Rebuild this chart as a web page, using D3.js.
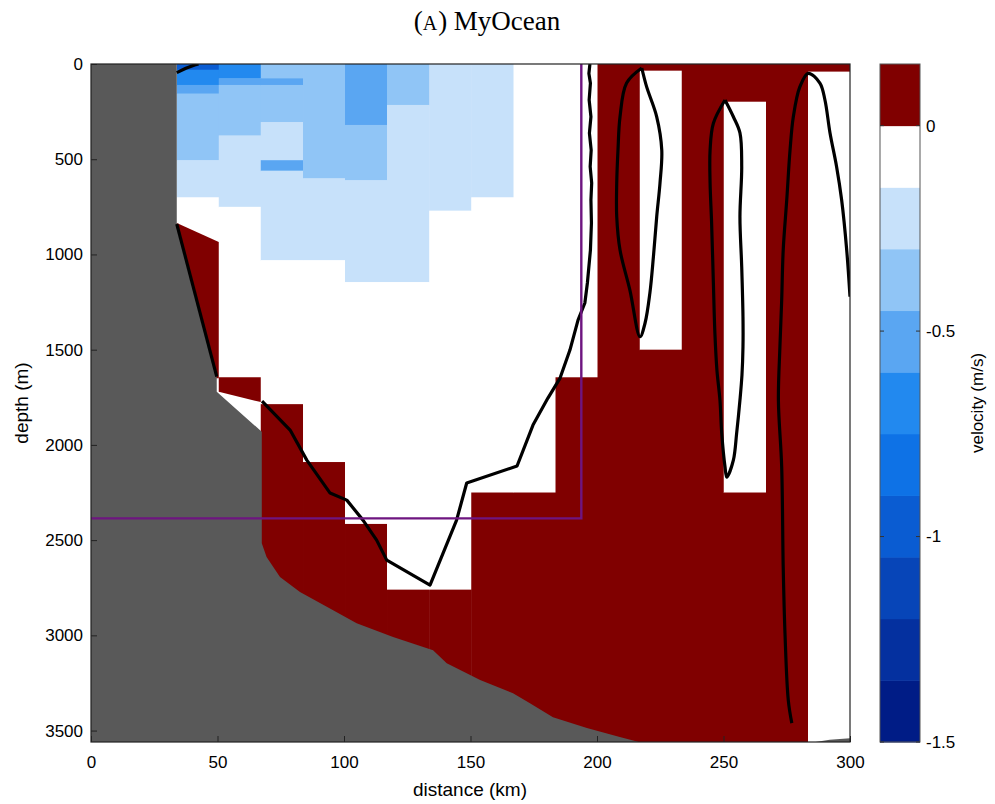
<!DOCTYPE html>
<html><head><meta charset="utf-8">
<script src="https://cdn.jsdelivr.net/npm/d3@7"></script>
<style>body{margin:0;background:#fff}svg{display:block}</style>
</head><body>
<svg id="chart" width="995" height="804"></svg>
<script>
// ---------------- DATA ----------------
const xTicks = [0, 50, 100, 150, 200, 250, 300];
const yTicks = [0, 500, 1000, 1500, 2000, 2500, 3000, 3500];
const cbTicks = [0, -0.5, -1, -1.5];
const cbThresholds = [-1.35, -1.2, -1.05, -0.9, -0.75, -0.6, -0.45, -0.3, -0.15, 0];
const cbColors = ['#001c86','#04309f','#0745b8','#0a5cd2','#0e72e6','#2289ef','#5aa6f2','#90c5f6','#c7e1fa','#ffffff','#800000'];

// grid column edges (km)
const colEdges = [33.9, 50.5, 67.1, 83.8, 100.4, 117.0, 133.7, 150.3, 167.0, 183.6, 200.2, 216.9, 233.5, 250.1, 266.8, 283.4, 300.0];
// velocity (m/s) per column as runs [top depth m, bottom depth m, value]
const velocityRuns = [
  [[0,30,-1.0],[30,110,-0.7],[110,155,-0.5],[155,505,-0.4],[505,700,-0.2],[700,835,-0.05]],
  [[0,75,-0.65],[75,110,-0.5],[110,375,-0.4],[375,750,-0.2],[750,1645,-0.05]],
  [[0,75,-0.35],[75,110,-0.5],[110,305,-0.35],[305,505,-0.2],[505,560,-0.5],[560,1030,-0.2],[1030,1786,-0.05],[1786,3600,0.1]],
  [[0,600,-0.35],[600,1030,-0.2],[1030,2090,-0.05],[2090,3600,0.1]],
  [[0,320,-0.55],[320,610,-0.4],[610,1145,-0.2],[1145,2415,-0.05],[2415,3600,0.1]],
  [[0,215,-0.4],[215,1145,-0.2],[1145,2760,-0.05],[2760,3600,0.1]],
  [[0,770,-0.2],[770,2760,-0.05],[2760,3600,0.1]],
  [[0,700,-0.2],[700,2250,-0.05],[2250,3600,0.1]],
  [[0,2250,-0.05],[2250,3600,0.1]],
  [[0,1645,-0.05],[1645,3600,0.1]],
  [[0,3600,0.1]],
  [[0,35,0.1],[35,1500,-0.05],[1500,3600,0.1]],
  [[0,3600,0.1]],
  [[0,198,0.1],[198,2250,-0.05],[2250,3600,0.1]],
  [[0,3600,0.1]],
  [[0,40,0.1],[40,3600,-0.05]]
];
// bottom cells with sloping edges: [x0, x1, topL, topR, botL, botR, value]
const partialCells = [
  [33.9, 50.5, 835, 935, 1650, 1650, 0.1],
  [50.5, 67.1, 1645, 1645, 1721, 1775, 0.1]
];
// bathymetry
const bathyKm    = [0, 33.9, 33.9, 49.7, 49.7, 67.5, 67.5, 69.4, 74.7, 82.6, 95.7, 105, 119.4, 135.2, 140.6, 153.8, 166.8, 173.5, 182.6, 196, 209, 218, 284, 292, 300];
const bathyDepth = [0, 0, 835, 1642, 1721, 1931, 2516, 2588, 2693, 2773, 2868, 2936, 3009, 3078, 3146, 3235, 3304, 3356, 3430, 3487, 3534, 3565, 3565, 3548, 3540];
// zero-velocity contours [km, m]
const contourA1 = [[33.9,840],[49.7,1642]];
const contourA2 = [[67.6,1770],[78.7,1922],[85.3,2080],[94.5,2253],[101.1,2290],[107.5,2395],[112.9,2500],[116.9,2605],[134,2736],[144.5,2395],[148.5,2200],[168.4,2111],[174.7,1896],[180.6,1754],[185.4,1649],[189.3,1502],[192.5,1345],[195.2,1255],[196.2,1150],[197.4,977],[197.8,835],[197.6,714],[197.9,625],[197.3,539],[197.7,452],[197.0,363],[197.6,277],[196.9,189],[197.4,101],[196.8,50],[197.2,0]];
const contourB = [[217.7,21],[219.6,119],[223.6,277],[225.6,452],[224.9,625],[223.6,802],[222.3,1012],[220.9,1203],[219,1360],[217,1432],[213,1187],[209.1,977],[207.8,802],[207.8,625],[208.3,450],[209.1,277],[211.7,100],[217.7,21]];
const contourC = [[250.6,189],[253.9,277],[256.5,362],[257.2,539],[256.5,802],[257.2,1065],[257.7,1327],[257.7,1485],[257.3,1633],[256.5,1765],[255.2,1938],[253.9,2080],[251.3,2169],[250.6,2115],[249.3,1938],[248.6,1765],[247.4,1607],[246.6,1413],[246,1150],[245.3,835],[244.7,625],[244.7,452],[246,311],[250.6,189]];
const contourD = [[277,3461],[275.6,3340],[274.3,2988],[273.6,2640],[273,2115],[271.7,1765],[272.3,1485],[273,1240],[273.6,977],[275,714],[276.3,452],[277.6,277],[280.2,119],[283.5,49],[288.1,100],[290.1,189],[292.1,362],[294.7,539],[296.7,714],[298.7,977],[300,1222]];
const contourE = [[33.9,45],[37.5,22],[41,5],[42.5,0]];
// analysis box (km, m)
const boxKm = 193.8, boxDepth = 2386;

// ---------------- DRAW ----------------
const P = {l:91, r:850, t:64, b:742};
const x = d3.scaleLinear().domain([0,300]).range([P.l,P.r]);
const y = d3.scaleLinear().domain([0,3560]).range([P.t,P.b]);
const color = d3.scaleThreshold().domain(cbThresholds).range(cbColors);
const svg = d3.select('#chart');
const font = "'Liberation Sans', Arial, Helvetica, sans-serif";

svg.append('defs').append('clipPath').attr('id','clip')
  .append('rect').attr('x',P.l).attr('y',P.t).attr('width',P.r-P.l).attr('height',P.b-P.t);
const g = svg.append('g').attr('clip-path','url(#clip)');
g.append('rect').attr('x',P.l).attr('y',P.t).attr('width',P.r-P.l).attr('height',P.b-P.t).attr('fill','#fff');

// cells
const cells = [];
velocityRuns.forEach((runs,i)=>runs.forEach(r=>cells.push({x0:colEdges[i],x1:colEdges[i+1],d0:r[0],d1:r[1],v:r[2]})));
g.selectAll('rect.cell').data(cells).join('rect').attr('class','cell')
  .attr('x',d=>x(d.x0)).attr('width',d=>x(d.x1)-x(d.x0)+0.5)
  .attr('y',d=>y(d.d0)).attr('height',d=>y(d.d1)-y(d.d0)+0.5)
  .attr('fill',d=>color(d.v));
g.selectAll('path.pcell').data(partialCells).join('path').attr('class','pcell')
  .attr('d',d=>`M${x(d[0])},${y(d[2])}L${x(d[1])},${y(d[3])}L${x(d[1])},${y(d[5])}L${x(d[0])},${y(d[4])}Z`)
  .attr('fill',d=>color(d[6]));

// bathymetry
const bathy = bathyKm.map((k,i)=>[k,bathyDepth[i]]);
const bathyPoly = [...bathy,[300,3700],[0,3700]];
g.append('path').attr('d',d3.line().x(d=>x(d[0])).y(d=>y(d[1]))(bathyPoly)+'Z').attr('fill','#595959');

// contours
const ln = d3.line().x(d=>x(d[0])).y(d=>y(d[1]));
const lnS = d3.line().x(d=>x(d[0])).y(d=>y(d[1])).curve(d3.curveCatmullRom.alpha(0.5));
[contourA1,contourA2,contourE].forEach(c=>g.append('path').attr('d',ln(c)).attr('fill','none').attr('stroke','#000').attr('stroke-width',3.2).attr('stroke-linejoin','round'));
[contourB,contourC,contourD].forEach(c=>g.append('path').attr('d',lnS(c)).attr('fill','none').attr('stroke','#000').attr('stroke-width',3.2).attr('stroke-linejoin','round'));

// analysis box
g.append('path').attr('d',`M${x(0)},${y(boxDepth)}L${x(boxKm)},${y(boxDepth)}L${x(boxKm)},${y(0)}`)
  .attr('fill','none').attr('stroke','#6e1580').attr('stroke-width',2.4);

// axes
const ax = svg.append('g').attr('transform',`translate(0,${P.b})`)
  .call(d3.axisBottom(x).tickValues(xTicks).tickFormat(d3.format('d')).tickSizeInner(-6).tickSizeOuter(0).tickPadding(14));
const ay = svg.append('g').attr('transform',`translate(${P.l},0)`)
  .call(d3.axisLeft(y).tickValues(yTicks).tickFormat(d3.format('d')).tickSizeInner(-6).tickSizeOuter(0).tickPadding(8));
[ax,ay].forEach(a=>{a.selectAll('text').attr('font-family',font).attr('font-size',17).attr('fill','#000');
  a.selectAll('line').attr('stroke','#222'); a.select('.domain').remove();});
svg.append('rect').attr('x',P.l).attr('y',P.t).attr('width',P.r-P.l).attr('height',P.b-P.t)
  .attr('fill','none').attr('stroke','#222').attr('stroke-width',1.2);

svg.append('text').attr('x',470).attr('y',796).attr('text-anchor','middle')
  .attr('font-family',font).attr('font-size',19).text('distance (km)');
svg.append('text').attr('transform',`translate(28,${(P.t+P.b)/2}) rotate(-90)`).attr('text-anchor','middle')
  .attr('font-family',font).attr('font-size',19).text('depth (m)');

// colorbar
const cb = {l:880, r:920};
const cy = d3.scaleLinear().domain([-1.5,0.15]).range([P.b,P.t]);
const bins = d3.range(cbColors.length).map(i=>({lo: i===0?-1.5:cbThresholds[i-1], hi: i===cbColors.length-1?0.15:cbThresholds[i], c: cbColors[i]}));
svg.selectAll('rect.cb').data(bins).join('rect').attr('class','cb')
  .attr('x',cb.l).attr('width',cb.r-cb.l).attr('y',d=>cy(d.hi)).attr('height',d=>cy(d.lo)-cy(d.hi)+0.5).attr('fill',d=>d.c);
svg.append('rect').attr('x',cb.l).attr('y',P.t).attr('width',cb.r-cb.l).attr('height',P.b-P.t)
  .attr('fill','none').attr('stroke','#555').attr('stroke-width',1);
const cbt = svg.append('g');
cbTicks.forEach(t=>{
  cbt.append('line').attr('x1',cb.l).attr('x2',cb.l+4).attr('y1',cy(t)).attr('y2',cy(t)).attr('stroke','#333');
  cbt.append('line').attr('x1',cb.r-4).attr('x2',cb.r).attr('y1',cy(t)).attr('y2',cy(t)).attr('stroke','#333');
  cbt.append('text').attr('x',cb.r+6).attr('y',cy(t)).attr('dy','0.35em').attr('font-family',font).attr('font-size',17).text(String(t));
});
svg.append('text').attr('transform',`translate(983,${(P.t+P.b)/2}) rotate(-90)`).attr('text-anchor','middle')
  .attr('font-family',font).attr('font-size',17).text('velocity (m/s)');

// title
const title = svg.append('text').attr('x',487).attr('y',30).attr('text-anchor','middle')
  .attr('font-family',"'Liberation Serif', 'DejaVu Serif', serif").attr('font-size',27);
title.append('tspan').text('(');
title.append('tspan').attr('font-size',20).attr('letter-spacing',1).text('A');
title.append('tspan').text(') MyOcean');
</script>
</body></html>
